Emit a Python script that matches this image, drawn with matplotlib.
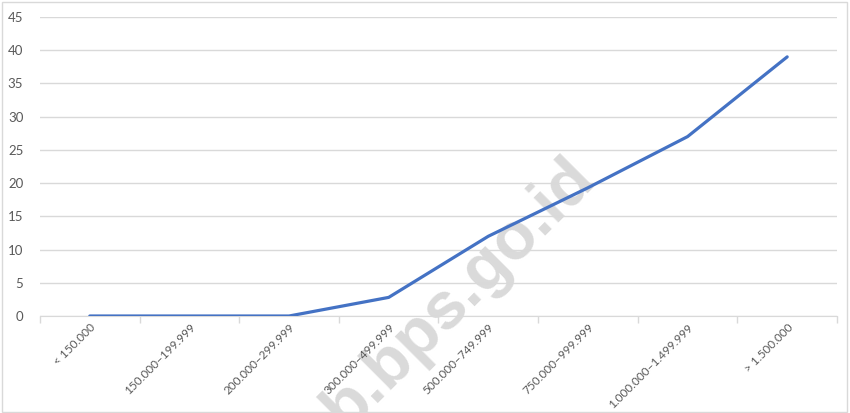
import matplotlib.pyplot as plt
from matplotlib.patches import Rectangle

categories = ["< 150.000", "150.000\u2013199.999", "200.000\u2013299.999", "300.000\u2013499.999",
              "500.000\u2013749.999", "750.000\u2013999.999", "1.000.000\u20131.499.999", "> 1.500.000"]
values = [0, 0, 0, 2.8, 12, 19.3, 27, 39]
y_ticks = [0, 5, 10, 15, 20, 25, 30, 35, 40, 45]

plt.rcParams['font.family'] = ['Lato', 'DejaVu Sans']

fig = plt.figure(figsize=(8.5, 4.13), dpi=100)
ax = fig.add_axes([40 / 850, 97 / 413, 797 / 850, 299 / 413])
ax.set_zorder(2)

x = list(range(len(categories)))
ax.plot(x, values, color="#4472C4", linewidth=2.3, solid_capstyle="round", zorder=4)

ax.set_xlim(-0.5, len(categories) - 0.5)
ax.set_ylim(0, 45)
ax.set_yticks(y_ticks)
ax.tick_params(axis="y", length=0, labelsize=9.5, labelcolor="#595959", pad=12)
ax.grid(axis="y", color="#d9d9d9", linewidth=1)
ax.set_axisbelow(True)

# category labels at centres, tick marks at band edges
ax.set_xticks(x)
ax.set_xticklabels(categories, rotation=45, ha="right", va="top",
                   rotation_mode="anchor", fontsize=8.5, color="#595959")
ax.tick_params(axis="x", which="major", length=0, pad=4)
ax.set_xticks([i - 0.5 for i in range(len(categories) + 1)], minor=True)
ax.tick_params(axis="x", which="minor", length=5, color="#d9d9d9", width=1)

for s in ["top", "right", "left"]:
    ax.spines[s].set_visible(False)
ax.spines["bottom"].set_color("#d9d9d9")
ax.patch.set_alpha(0)

# watermark
fig.text(0.54, 0.29, "b.bps.go.id", fontsize=48, fontweight="bold", color="#dadada",
         rotation=45, ha="center", va="center", family="Liberation Sans", zorder=0)

fig.patches.append(Rectangle((2 / 850, 1 / 413), 845 / 850, 410 / 413, transform=fig.transFigure,
                             fill=False, edgecolor="#d9d9d9", linewidth=1))

fig.savefig("out.png", dpi=100)
